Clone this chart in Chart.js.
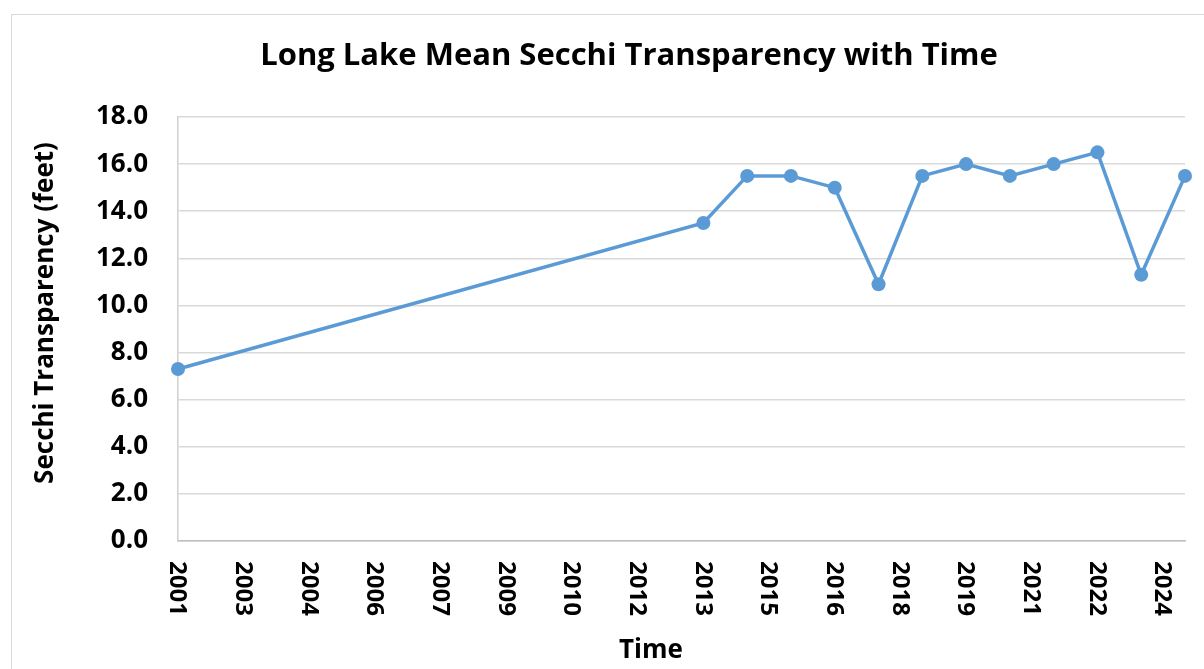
<!DOCTYPE html>
<html><head><meta charset="utf-8">
<script src="https://cdn.jsdelivr.net/npm/chart.js@4"></script>
<style>
html,body{margin:0;padding:0;background:#fff;}
#wrap{position:relative;width:1204px;height:669px;overflow:hidden;}
#frame{position:absolute;left:11px;top:14px;width:1300px;height:800px;border:1.5px solid #d9d9d9;box-sizing:border-box;}
canvas{position:absolute;left:0;top:0;}
</style></head><body>
<div id="wrap"><div id="frame"></div><canvas id="c" width="1204" height="669"></canvas></div>
<script>
// Sampling dates (decimal years, mid-summer) and mean Secchi transparency (feet)
const sampleYears = [2001.6, 2013.6, 2014.6, 2015.6, 2016.6, 2017.6, 2018.6, 2019.6, 2020.6, 2021.6, 2022.6, 2023.6, 2024.6];
const secchiFeet  = [7.3, 13.5, 15.5, 15.5, 15.0, 10.9, 15.5, 16.0, 15.5, 16.0, 16.5, 11.3, 15.5];
const xTickLabels = ['2001','2003','2004','2006','2007','2009','2010','2012','2013','2015','2016','2018','2019','2021','2022','2024'];
const xTickStepYears = 1.5;
const yTickValues = [0, 2, 4, 6, 8, 10, 12, 14, 16, 18];
const chartTitle = 'Long Lake Mean Secchi Transparency with Time';
const yTitle = 'Secchi Transparency (feet)';
const xTitle = 'Time';

const FONT = '"Open Sans", Lato, sans-serif';

const customText = {
  id: 'customText',
  afterDraw(chart) {
    const ctx = chart.ctx;
    const sx = chart.scales.x;
    ctx.save();
    ctx.fillStyle = '#000';
    ctx.textAlign = 'center';
    ctx.textBaseline = 'middle';
    // chart title
    ctx.font = 'bold 31px ' + FONT;
    ctx.fillText(chartTitle, 629, 56);
    // x axis title
    ctx.font = 'bold 26px ' + FONT;
    ctx.fillText(xTitle, 651, 651);
    // y axis title (rotated counter-clockwise)
    ctx.save();
    ctx.font = 'bold 26px ' + FONT;
    ctx.translate(46, 313);
    ctx.rotate(-Math.PI / 2);
    ctx.fillText(yTitle, 0, 0);
    ctx.restore();
    // x tick labels, rotated clockwise
    ctx.font = 'bold 24px ' + FONT;
    sx.ticks.forEach((t, i) => {
      const px = sx.getPixelForValue(t.value);
      ctx.save();
      ctx.translate(px, sx.top + 20);
      ctx.rotate(Math.PI / 2);
      ctx.textAlign = 'left';
      ctx.textBaseline = 'middle';
      ctx.fillText(xTickLabels[i], 0, 1);
      ctx.restore();
    });
    ctx.restore();
  }
};

new Chart(document.getElementById('c'), {
  type: 'line',
  data: {
    datasets: [{
      data: sampleYears.map((x, i) => ({x: x, y: secchiFeet[i]})),
      borderColor: '#5b9bd5',
      backgroundColor: '#5b9bd5',
      borderWidth: 3.5,
      pointRadius: 7,
      pointBorderWidth: 0,
      pointBackgroundColor: '#5b9bd5',
      tension: 0,
      fill: false,
      clip: false
    }]
  },
  options: {
    responsive: false,
    animation: false,
    layout: { padding: { top: 117, right: 19, left: 0, bottom: 0 } },
    plugins: { legend: { display: false }, title: { display: false }, tooltip: { enabled: false } },
    scales: {
      x: {
        type: 'linear',
        min: sampleYears[0],
        max: sampleYears[sampleYears.length - 1],
        afterBuildTicks(scale) {
          scale.ticks = xTickLabels.map((l, i) => ({ value: sampleYears[0] + i * xTickStepYears }));
        },
        afterFit(scale) { scale.height = 128; },
        ticks: { display: false },
        grid: { display: false },
        border: { display: true, color: '#bfbfbf', width: 1.5 },
        title: { display: false }
      },
      y: {
        min: 0, max: 18,
        afterBuildTicks(scale) { scale.ticks = yTickValues.map(v => ({ value: v })); },
        afterFit(scale) { scale.width = 178; },
        ticks: { color: '#000', font: { family: FONT, size: 26, weight: 'bold' }, padding: 30, callback: v => Number(v).toFixed(1) },
        grid: { color: '#d9d9d9', lineWidth: 1.5, drawTicks: false },
        border: { display: true, color: '#d0d0d0', width: 1.5 },
        title: { display: false }
      }
    }
  },
  plugins: [customText]
});
</script>
</body></html>
